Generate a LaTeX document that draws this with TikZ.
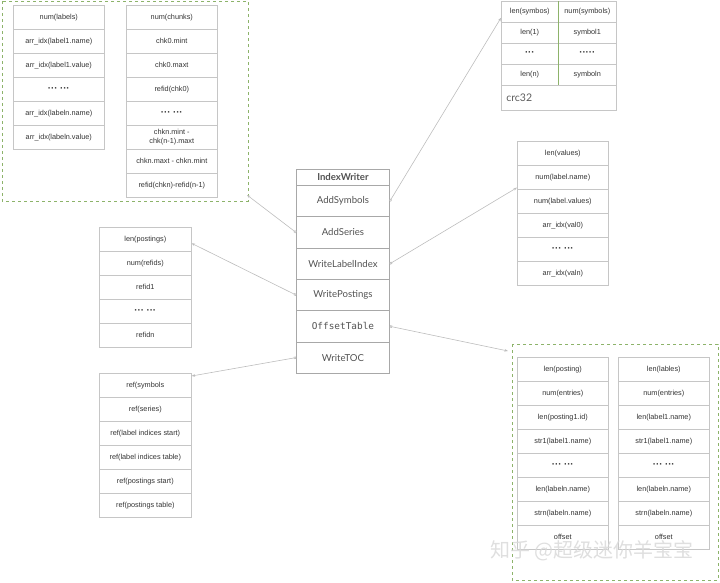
\documentclass[tikz,border=0pt]{standalone}
\usepackage{fontspec}
\setmainfont{Liberation Sans}
\newfontfamily\lato{Lato}
\newfontfamily\mono{DejaVu Sans Mono}
\newfontfamily\cjk{Noto Sans CJK SC}
\usetikzlibrary{arrows.meta}
\definecolor{grigio}{HTML}{C6C6C6}
\definecolor{grigioscuro}{HTML}{A8A8A8}
\definecolor{testo}{HTML}{333333}
\definecolor{verde}{HTML}{8DB36A}
\definecolor{grigiofreccia}{HTML}{BDBDBD}
\newcommand{\puntini}[1]{\textbf{\fontsize{9.5}{9.5}\selectfont #1}}
\begin{document}
\begin{tikzpicture}[x=1pt,y=-1pt,
  cella/.style={draw=grigio,line width=.6pt,minimum width=91pt,minimum height=24pt,inner sep=1pt,
    anchor=north west,align=center,text=testo,font=\fontsize{7.3}{8.6}\selectfont},
  metodo/.style={draw=grigioscuro,line width=.9pt,minimum width=93pt,minimum height=31.3pt,
    anchor=north west,text=testo!85,font=\lato\fontsize{9.6}{11}\selectfont},
  gruppo/.style={draw=verde,dashed,line width=.6pt},
  freccia/.style={draw=grigiofreccia,line width=.6pt,
    {Square[open,length=2.2pt,width=2.2pt]}-{Stealth[length=3.5pt,width=2.6pt]}}]

\useasboundingbox (0,0) rectangle (720,582);

%gruppo label e chunk
\draw[gruppo] (2,1) rectangle (248,201);
\coordinate (angolo1) at (247,195);
\foreach \t [count=\i] in {num(labels),arr\_idx(label1.name),arr\_idx(label1.value),
    \puntini{··· ···},arr\_idx(labeln.name),arr\_idx(labeln.value)}
  \node[cella] (lbl\i) at (13,{5+24*(\i-1)}) {\t};
\foreach \t [count=\i] in {num(chunks),chk0.mint,chk0.maxt,refid(chk0),\puntini{··· ···},
    {chkn.mint -\\chk(n-1).maxt},chkn.maxt - chkn.mint,refid(chkn)-refid(n-1)}
  \node[cella] (chk\i) at (126,{5+24*(\i-1)}) {\t};

%IndexWriter
\node[metodo,minimum height=16pt,font=\lato\bfseries\fontsize{9.6}{11}\selectfont] (iw) at (296,169) {IndexWriter};
\node[metodo] (addsym) at (296,185) {AddSymbols};
\node[metodo] (addser) at (296,216.3) {AddSeries};
\node[metodo] (wlabel) at (296,247.6) {WriteLabelIndex};
\node[metodo] (wpost) at (296,278.9) {WritePostings};
\node[metodo,font=\mono\fontsize{9.4}{11}\selectfont] (offtab) at (296,310.2) {OffsetTable};
\node[metodo] (wtoc) at (296,341.5) {WriteTOC};

%tabella simboli
\foreach \t/\u [count=\i] in {len(symbos)/num(symbols),len(1)/symbol1,
    \puntini{···}/\puntini{·····},len(n)/symboln}{
  \node[cella,minimum width=57pt,minimum height=21pt] (syml\i) at (501,{1+21*(\i-1)}) {\t};
  \node[cella,minimum width=58pt,minimum height=21pt] (symr\i) at (558,{1+21*(\i-1)}) {\u};
}
\draw[verde,line width=.6pt] (symr1.north west) -- (symr4.south west);
\node[cella,minimum width=115pt,minimum height=25pt,text width=105pt,align=left,
  text=testo!80,font=\lato\fontsize{10.5}{12}\selectfont] (crc) at (501,85) {crc32};

%tabella valori
\foreach \t [count=\i] in {len(values),num(label.name),num(label.values),arr\_idx(val0),
    \puntini{··· ···},arr\_idx(valn)}
  \node[cella] (val\i) at (517,{141+24*(\i-1)}) {\t};

%tabella postings
\foreach \t [count=\i] in {len(postings),num(refids),refid1,\puntini{··· ···},refidn}
  \node[cella,minimum width=92pt] (post\i) at (99,{227+24*(\i-1)}) {\t};

%tabella TOC
\foreach \t [count=\i] in {ref(symbols,ref(series),ref(label indices start),
    ref(label indices table),ref(postings start),ref(postings table)}
  \node[cella,minimum width=92pt] (toc\i) at (99,{373+24*(\i-1)}) {\t};

%gruppo offset table
\draw[gruppo] (512,344) rectangle (718,580);
\coordinate (angolo2) at (508,351);
\foreach \t/\u [count=\i] in {len(posting)/len(lables),num(entries)/num(entries),
    len(posting1.id)/len(label1.name),str1(label1.name)/str1(label1.name),
    \puntini{··· ···}/\puntini{··· ···},
    len(labeln.name)/len(labeln.name),strn(labeln.name)/strn(labeln.name),offset/offset}{
  \node[cella] (offl\i) at (517,{357+24*(\i-1)}) {\t};
  \node[cella] (offr\i) at (618,{357+24*(\i-1)}) {\u};
}

%frecce
\draw[freccia] (addsym.east) -- ([yshift=-6pt]syml1.west);
\draw[freccia] (addser.west) -- (angolo1);
\draw[freccia] (wlabel.east) -- ([yshift=2pt]val2.south west);
\draw[freccia] (wpost.west) -- ([yshift=-4pt]post1.east);
\draw[freccia] (wtoc.west) -- ([yshift=-3pt]toc1.north east);
\draw[freccia] (offtab.east) -- (angolo2);

%marchio
\node[font=\cjk\fontsize{20}{20}\selectfont,text=gray!30,opacity=.85] (marchio) at (592,551) {知乎 @超级迷你羊宝宝};
\end{tikzpicture}
\end{document}
